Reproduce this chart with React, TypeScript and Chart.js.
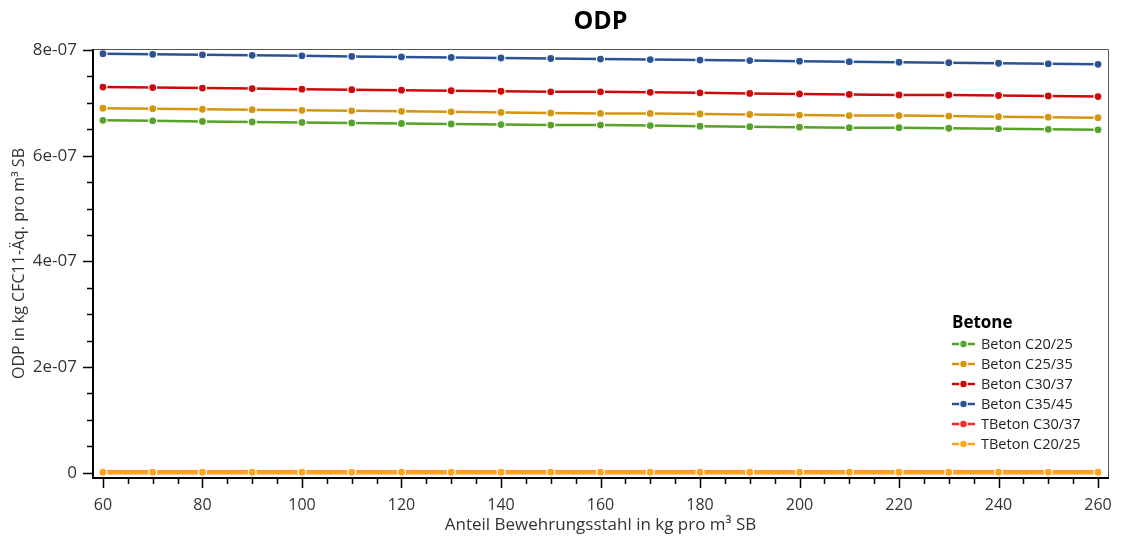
import React, { useEffect, useRef } from "react";
import { Chart, registerables } from "chart.js";

Chart.register(...registerables);

const xValues = [60, 70, 80, 90, 100, 110, 120, 130, 140, 150, 160, 170, 180, 190, 200, 210, 220, 230, 240, 250, 260];

const betonC2025 = [6.67, 6.66, 6.65, 6.64, 6.63, 6.62, 6.61, 6.60, 6.59, 6.58, 6.58, 6.57, 6.56, 6.55, 6.54, 6.53, 6.53, 6.52, 6.51, 6.50, 6.49];
const betonC2535 = [6.90, 6.89, 6.88, 6.87, 6.86, 6.85, 6.84, 6.83, 6.82, 6.81, 6.80, 6.80, 6.79, 6.78, 6.77, 6.76, 6.76, 6.75, 6.74, 6.73, 6.72];
const betonC3037 = [7.30, 7.29, 7.28, 7.27, 7.26, 7.25, 7.24, 7.23, 7.22, 7.21, 7.21, 7.20, 7.19, 7.18, 7.17, 7.16, 7.15, 7.15, 7.14, 7.13, 7.12];
const betonC3545 = [7.93, 7.92, 7.91, 7.90, 7.89, 7.88, 7.87, 7.86, 7.85, 7.84, 7.83, 7.82, 7.81, 7.80, 7.79, 7.78, 7.77, 7.76, 7.75, 7.74, 7.73];
const tbetonC3037 = [0.01, 0.01, 0.01, 0.01, 0.01, 0.01, 0.01, 0.01, 0.01, 0.01, 0.01, 0.01, 0.01, 0.01, 0.01, 0.01, 0.01, 0.01, 0.01, 0.01, 0.01];
const tbetonC2025 = [0.01, 0.01, 0.01, 0.01, 0.01, 0.01, 0.01, 0.01, 0.01, 0.01, 0.01, 0.01, 0.01, 0.01, 0.01, 0.01, 0.01, 0.01, 0.01, 0.01, 0.01];

const seriesLabels = ["Beton C20/25", "Beton C25/35", "Beton C30/37", "Beton C35/45", "TBeton C30/37", "TBeton C20/25"];
const seriesColors = ["#56a22a", "#d4960f", "#cc0a0a", "#2b5393", "#ff2424", "#ffa41f"];
const seriesWidths = [2.5, 2.5, 2.5, 2.5, 4, 4];

const xTickValues = [60, 80, 100, 120, 140, 160, 180, 200, 220, 240, 260];
const xTickLabels = ["60", "80", "100", "120", "140", "160", "180", "200", "220", "240", "260"];
const yTickValues = [0, 2e-7, 4e-7, 6e-7, 8e-7];
const yTickLabels = ["0", "2e-07", "4e-07", "6e-07", "8e-07"];

const chartTitle = "ODP";
const xTitle = "Anteil Bewehrungsstahl in kg pro m³ SB";
const yTitle = "ODP in kg CFC11-Äq. pro m³ SB";
const legendTitle = "Betone";

const FONT = "'Open Sans', 'Noto Sans', sans-serif";

const allSeries = [betonC2025, betonC2535, betonC3037, betonC3545, tbetonC3037, tbetonC2025];

const decorPlugin = {
  id: "decor",
  afterDraw(chart: any) {
    const { ctx, chartArea } = chart;
    const xs = chart.scales.x;
    const ys = chart.scales.y;
    const { left, right, top, bottom } = chartArea;
    ctx.save();
    // frame
    ctx.strokeStyle = "#555";
    ctx.lineWidth = 1;
    ctx.beginPath();
    ctx.moveTo(left, top + 0.5);
    ctx.lineTo(right + 0.5, top + 0.5);
    ctx.lineTo(right + 0.5, bottom);
    ctx.stroke();
    ctx.strokeStyle = "#000";
    ctx.lineWidth = 2;
    ctx.beginPath();
    ctx.moveTo(left, top);
    ctx.lineTo(left, bottom);
    ctx.lineTo(right + 1, bottom);
    ctx.stroke();
    // ticks
    ctx.lineWidth = 1.5;
    for (let v = 60; v <= 260; v += 5) {
      const px = Math.round(xs.getPixelForValue(v)) + 0.5;
      const len = v % 20 === 0 ? 10 : 6;
      ctx.beginPath();
      ctx.moveTo(px, bottom);
      ctx.lineTo(px, bottom + len);
      ctx.stroke();
    }
    for (let k = 0; k <= 16; k++) {
      const v = k * 0.5e-7;
      const py = Math.round(ys.getPixelForValue(v)) + 0.5;
      const len = k % 4 === 0 ? 10 : 6;
      ctx.beginPath();
      ctx.moveTo(left, py);
      ctx.lineTo(left - len, py);
      ctx.stroke();
    }
    // title
    ctx.fillStyle = "#000";
    ctx.font = `bold 25px ${FONT}`;
    ctx.textAlign = "center";
    ctx.textBaseline = "middle";
    ctx.fillText(chartTitle, (left + right) / 2, 22);
    // legend
    const lx = 952;
    let ly = 323;
    ctx.textAlign = "left";
    ctx.font = `bold 17px ${FONT}`;
    ctx.fillText(legendTitle, lx, ly);
    ctx.font = `14.5px ${FONT}`;
    for (let i = 0; i < seriesLabels.length; i++) {
      ly = 344 + i * 20;
      ctx.strokeStyle = seriesColors[i];
      ctx.lineWidth = 2.5;
      ctx.beginPath();
      ctx.moveTo(lx, ly);
      ctx.lineTo(lx + 23, ly);
      ctx.stroke();
      ctx.fillStyle = seriesColors[i];
      ctx.strokeStyle = "#fff";
      ctx.lineWidth = 1.2;
      ctx.beginPath();
      ctx.arc(lx + 11.5, ly, 3.8, 0, Math.PI * 2);
      ctx.fill();
      ctx.stroke();
      ctx.fillStyle = "#222";
      ctx.fillText(seriesLabels[i], lx + 29, ly + 1);
    }
    ctx.restore();
  },
};

export default function App() {
  const ref = useRef<HTMLCanvasElement | null>(null);
  useEffect(() => {
    if (!ref.current) return;
    const chart = new Chart(ref.current, {
      type: "line",
      data: {
        datasets: allSeries.map((vals, i) => ({
          label: seriesLabels[i],
          data: xValues.map((x, j) => ({ x, y: vals[j] * 1e-7 })),
          borderColor: seriesColors[i],
          backgroundColor: seriesColors[i],
          borderWidth: seriesWidths[i],
          pointRadius: 4,
          pointBorderColor: "#fff",
          pointBorderWidth: 1.2,
          pointBackgroundColor: seriesColors[i],
          tension: 0,
          fill: false,
          order: 10 - i,
        })),
      },
      plugins: [decorPlugin],
      options: {
        responsive: false,
        animation: false,
        layout: { padding: { top: 49, right: 14, left: 0, bottom: 0 } },
        plugins: { legend: { display: false }, tooltip: { enabled: false }, title: { display: false } },
        scales: {
          x: {
            type: "linear",
            min: 58,
            max: 262,
            afterBuildTicks: (s: any) => { s.ticks = xTickValues.map((v) => ({ value: v })); },
            afterFit: (s: any) => { s.height = 63; s.paddingLeft = 0; s.paddingRight = 0; },
            grid: { display: false, drawTicks: false },
            border: { display: false },
            ticks: {
              padding: 18,
              color: "#333",
              font: { family: FONT, size: 16 },
              maxRotation: 0,
              callback: (_v: any, i: number) => xTickLabels[i],
            },
            title: {
              display: true,
              text: xTitle,
              color: "#333",
              font: { family: FONT, size: 17 },
              padding: { top: 0, bottom: 6 },
            },
          },
          y: {
            type: "linear",
            min: -0.1e-7,
            max: 8.02e-7,
            afterBuildTicks: (s: any) => { s.ticks = yTickValues.map((v) => ({ value: v })); },
            afterFit: (s: any) => { s.width = 93; s.paddingTop = 0; s.paddingBottom = 0; },
            grid: { display: false, drawTicks: false },
            border: { display: false },
            ticks: {
              padding: 16,
              color: "#333",
              font: { family: FONT, size: 17 },
              callback: (_v: any, i: number) => yTickLabels[i],
            },
            title: {
              display: true,
              text: yTitle,
              color: "#333",
              font: { family: FONT, size: 16 },
              padding: { top: 10, bottom: 0 },
            },
          },
        },
      },
    });
    return () => chart.destroy();
  }, []);
  return (
    <div style={{ position: "fixed", left: 0, top: 0, width: 1122, height: 541, background: "#fff" }}>
      <canvas ref={ref} width={1122} height={541} />
    </div>
  );
}
